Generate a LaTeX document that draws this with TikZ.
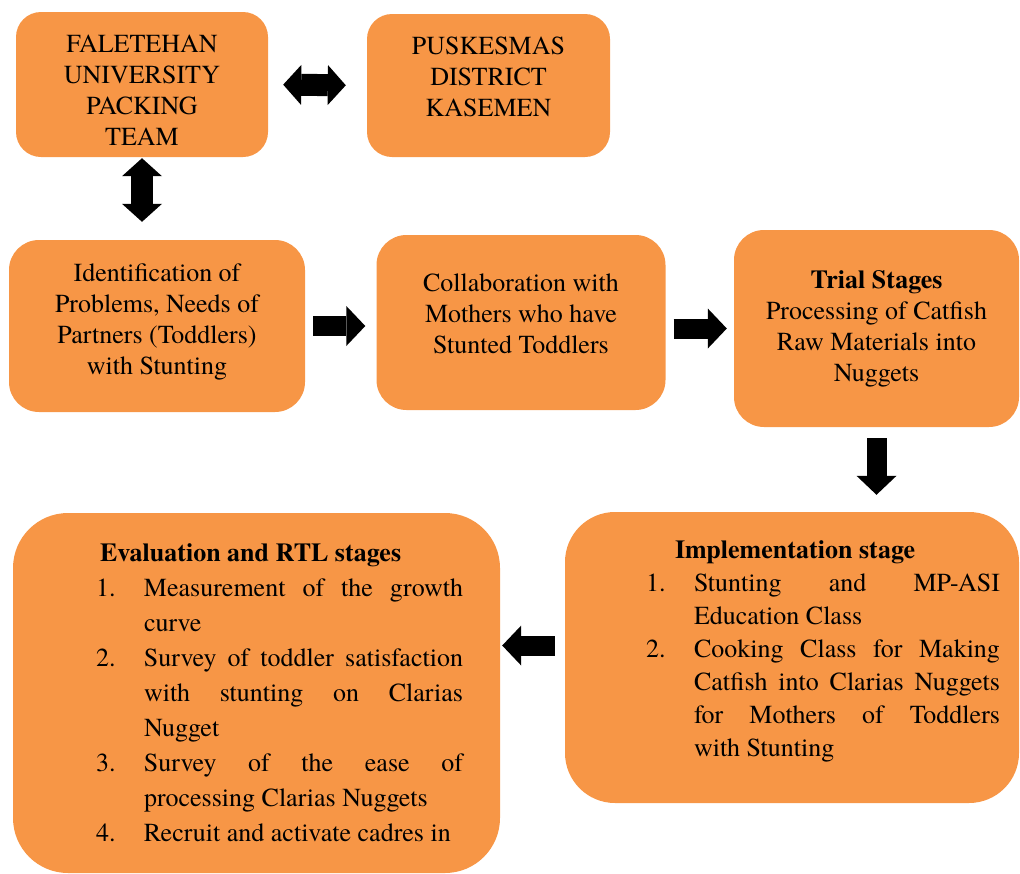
\documentclass[tikz,border=0pt]{standalone}
\usepackage{fontspec}
\setmainfont{texgyretermes-regular.otf}[BoldFont=texgyretermes-bold.otf]
\usepackage{tikz}
\usetikzlibrary{
  arrows.meta,%
  % for the shifted arrow ends
  calc,%
  positioning
}
\definecolor{stageorange}{HTML}{F79646}
\tikzset{>=latex}
\tikzset{font=\fontsize{26}{31}\selectfont}
\tikzset{stagebox/.style={fill=stageorange, rounded corners=#1, inner sep=0pt},
  stagebox/.default=25pt,
  stagetext/.style={align=center, inner sep=0pt, yshift=#1},
  stagetext/.default=0pt,
  blockarrow/.style={line width=20pt, -{Triangle[width=40pt, length=19pt, line width=0pt]}},
  doublearrow/.style={line width=22pt,
    {Triangle[width=40pt, length=18pt, line width=0pt]}-{Triangle[width=40pt, length=18pt, line width=0pt]}},
  listtext/.style={align=justify, inner sep=0pt, font=\fontsize{26}{#1}\selectfont}
}
\newcommand{\stepitem}[2]{\par\noindent\hangindent=48pt\hangafter=1\makebox[48pt][l]{#1}#2}
\newcommand{\nobreaks}{\hyphenpenalty=10000\relax\exhyphenpenalty=10000\relax\hbadness=10000\relax}

\begin{document}
\begin{tikzpicture}[x=1pt, y=-1pt]
  \useasboundingbox (0,0) rectangle (1020,873);
  % partners
  \node[stagebox, minimum width=252pt, minimum height=145pt,
    label={[stagetext=-6pt]center:{FALETEHAN\\UNIVERSITY\\PACKING\\TEAM}}] (uni) at (142,84.5) {};
  \node[stagebox, minimum width=243pt, minimum height=143pt,
    label={[stagetext=9pt]center:{PUSKESMAS\\DISTRICT\\KASEMEN}}] (pusk) at (488.5,85.5) {};
  % stages
  \node[stagebox=30pt, minimum width=296pt, minimum height=172pt,
    label={[stagetext=4pt]center:{Identification of\\Problems, Needs of\\Partners (Toddlers)\\with Stunting}}] (ident) at (157,326) {};
  \node[stagebox=30pt, minimum width=289pt, minimum height=175pt,
    label={[stagetext=9pt]center:{Collaboration with\\Mothers who have\\Stunted Toddlers}}] (collab) at (521,322.5) {};
  \node[stagebox=30pt, minimum width=285pt, minimum height=197pt,
    label={[stagetext]center:{\textbf{Trial Stages}\\Processing of Catfish\\Raw Materials into\\Nuggets}}] (trial) at (876.5,328.5) {};
  \node[stagebox=50pt, minimum width=454pt, minimum height=291pt] (impl) at (792,657.5) {};
  \node[stagebox=55pt, minimum width=487pt, minimum height=360pt] (eval) at (256.5,693) {};
  \node[listtext=33pt, text width=354pt] (impltext) at (823,651) {\nobreaks
    \noindent\hspace*{29pt}\textbf{Implementation stage}
    \stepitem{1.}{Stunting and MP-ASI\linebreak Education Class}
    \stepitem{2.}{Cooking Class for Making\linebreak Catfish into Clarias Nuggets\linebreak for Mothers of Toddlers\linebreak with Stunting}\par};
  \node[listtext=35pt, text width=367pt] (evaltext) at (279.5,693) {\nobreaks
    \noindent\hspace*{4pt}\textbf{Evaluation and RTL stages}
    \stepitem{1.}{Measurement of the growth\linebreak curve}
    \stepitem{2.}{Survey of toddler satisfaction\linebreak with stunting on Clarias\linebreak Nugget}
    \stepitem{3.}{Survey of the ease of\linebreak processing Clarias Nuggets}
    \stepitem{4.}{Recruit and activate cadres in}\par};
  % arrows
  \draw[doublearrow, shorten <=15pt, shorten >=21pt] (uni.east) -- (pusk.west);
  \draw[doublearrow, shorten <=1pt, shorten >=18pt] (uni.south) -- (uni.south |- ident.north);
  \draw[blockarrow, shorten <=8pt, shorten >=11pt] (ident.east) -- (ident.east -| collab.west);
  \draw[blockarrow, shorten <=8pt, shorten >=7pt] (trial.west -| collab.east) -- (trial.west);
  \draw[blockarrow, shorten <=11pt, shorten >=17pt] (trial.south) -- (trial.south |- impl.north);
  \draw[blockarrow, shorten <=10pt, shorten >=2pt] ($(impl.west)+(0,-12)$) -- ($(impl.west -| eval.east)+(0,-12)$);
\end{tikzpicture}
\end{document}
